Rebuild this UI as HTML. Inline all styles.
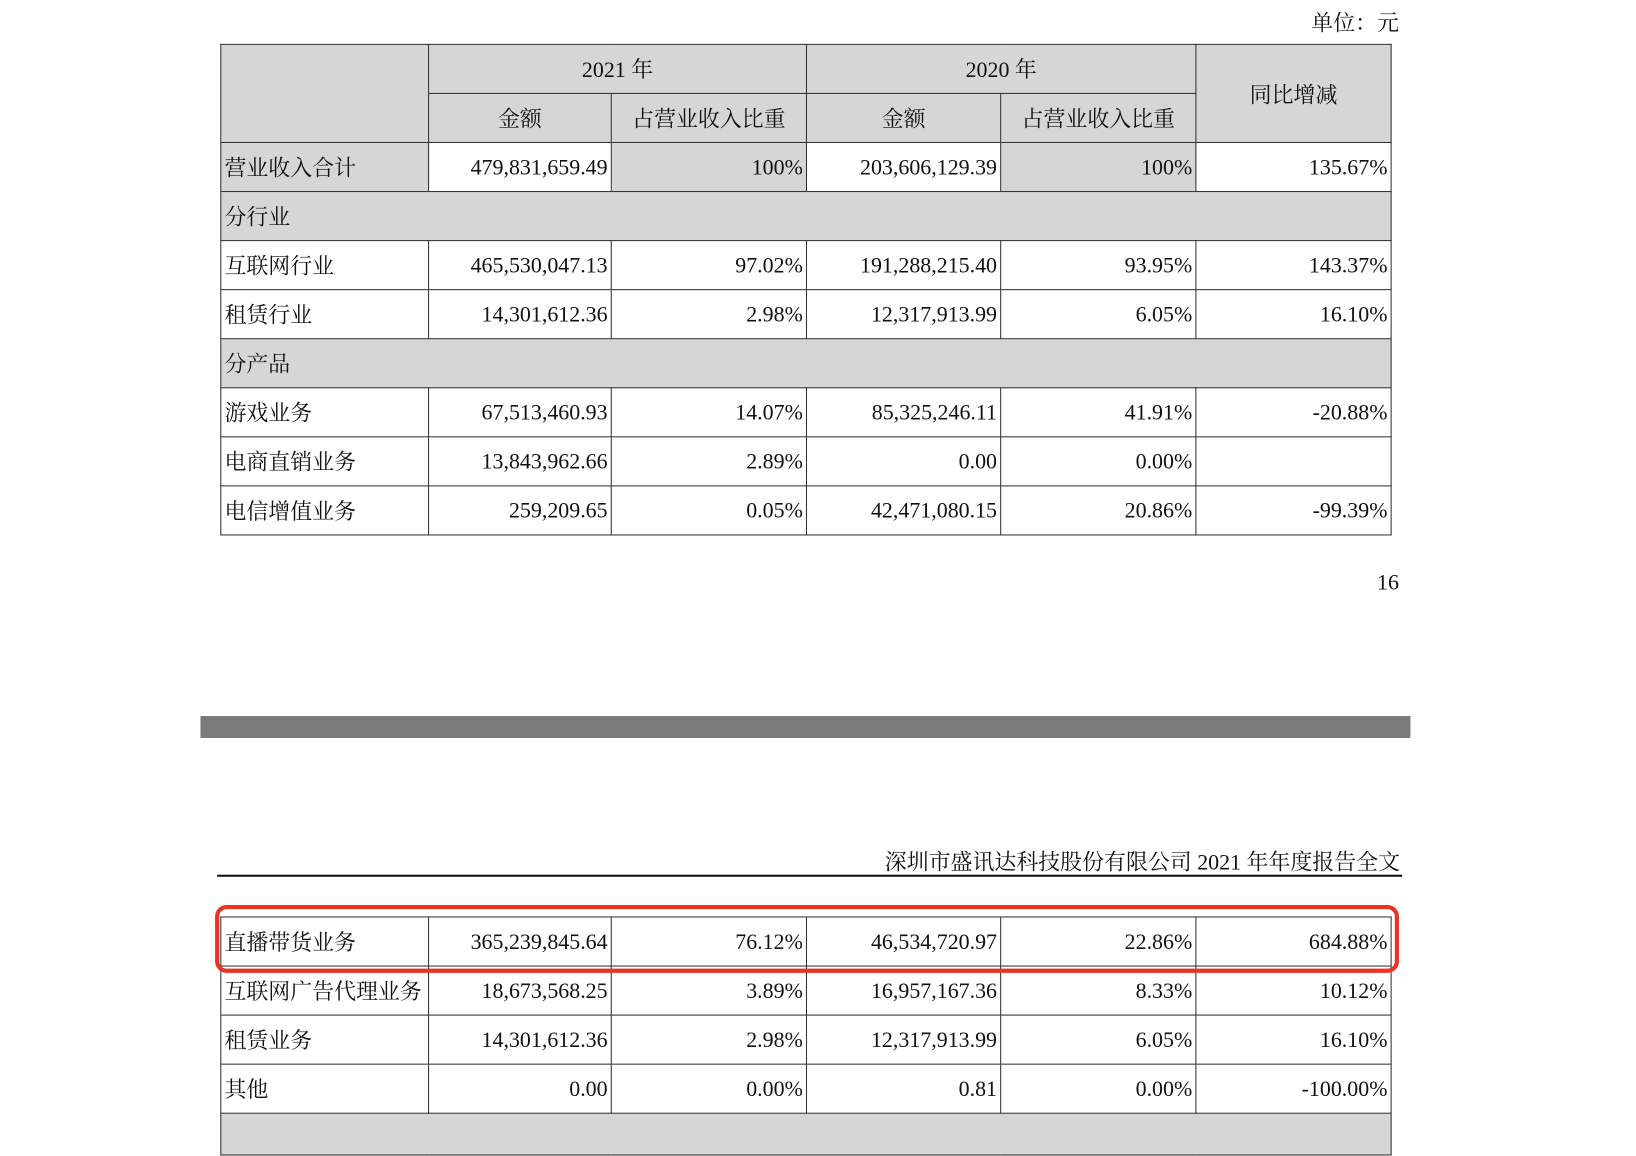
<!DOCTYPE html>
<html><head><meta charset="utf-8"><style>
html,body{margin:0;padding:0;background:#fff;width:1636px;height:1118px;overflow:hidden}
#w{position:absolute;left:0;top:0;width:1567px;height:1071px;transform:scale(1.044,1.0438);transform-origin:0 0;font-family:"Liberation Serif","Noto Serif CJK SC",serif;color:#111}
.t{position:absolute;font-size:21px;white-space:nowrap}
table{position:absolute;border-collapse:collapse;table-layout:fixed}
td{border:1.5px solid #333;height:47px;padding:0 3px;font-size:21px;white-space:nowrap;box-sizing:border-box}
td.r{text-align:right}
td.c{text-align:center}
.g{background:#d6d6d6}
</style></head><body><div id="w">
<div class="t" style="right:227px;top:6px">单位：元</div>
<table style="left:211px;top:42px;width:1121px">
<colgroup><col style="width:199px"><col style="width:175px"><col style="width:187px"><col style="width:186px"><col style="width:187px"><col style="width:187px"></colgroup>
<tr><td class="g" rowspan="2"></td><td class="g c" colspan="2">2021 年</td><td class="g c" colspan="2">2020 年</td><td class="g c" rowspan="2">同比增减</td></tr>
<tr><td class="g c">金额</td><td class="g c">占营业收入比重</td><td class="g c">金额</td><td class="g c">占营业收入比重</td></tr>
<tr><td class="g">营业收入合计</td><td class="r">479,831,659.49</td><td class="g r">100%</td><td class="r">203,606,129.39</td><td class="g r">100%</td><td class="r">135.67%</td></tr>
<tr><td class="g" colspan="6">分行业</td></tr>
<tr><td>互联网行业</td><td class="r">465,530,047.13</td><td class="r">97.02%</td><td class="r">191,288,215.40</td><td class="r">93.95%</td><td class="r">143.37%</td></tr>
<tr><td>租赁行业</td><td class="r">14,301,612.36</td><td class="r">2.98%</td><td class="r">12,317,913.99</td><td class="r">6.05%</td><td class="r">16.10%</td></tr>
<tr><td class="g" colspan="6">分产品</td></tr>
<tr><td>游戏业务</td><td class="r">67,513,460.93</td><td class="r">14.07%</td><td class="r">85,325,246.11</td><td class="r">41.91%</td><td class="r">-20.88%</td></tr>
<tr><td>电商直销业务</td><td class="r">13,843,962.66</td><td class="r">2.89%</td><td class="r">0.00</td><td class="r">0.00%</td><td class="r"></td></tr>
<tr><td>电信增值业务</td><td class="r">259,209.65</td><td class="r">0.05%</td><td class="r">42,471,080.15</td><td class="r">20.86%</td><td class="r">-99.39%</td></tr>
</table>
<div class="t" style="right:227px;top:546px">16</div>
<div style="position:absolute;left:192px;top:686px;width:1159px;height:21px;background:#7a7a7a"></div>
<div class="t" style="right:226px;top:810px">深圳市盛讯达科技股份有限公司 2021 年年度报告全文</div>
<div style="position:absolute;left:208px;top:838px;width:1135px;height:2px;background:#111"></div>
<table style="left:211px;top:878px;width:1121px">
<colgroup><col style="width:199px"><col style="width:175px"><col style="width:187px"><col style="width:186px"><col style="width:187px"><col style="width:187px"></colgroup>
<tr><td>直播带货业务</td><td class="r">365,239,845.64</td><td class="r">76.12%</td><td class="r">46,534,720.97</td><td class="r">22.86%</td><td class="r">684.88%</td></tr>
<tr><td>互联网广告代理业务</td><td class="r">18,673,568.25</td><td class="r">3.89%</td><td class="r">16,957,167.36</td><td class="r">8.33%</td><td class="r">10.12%</td></tr>
<tr><td>租赁业务</td><td class="r">14,301,612.36</td><td class="r">2.98%</td><td class="r">12,317,913.99</td><td class="r">6.05%</td><td class="r">16.10%</td></tr>
<tr><td>其他</td><td class="r">0.00</td><td class="r">0.00%</td><td class="r">0.81</td><td class="r">0.00%</td><td class="r">-100.00%</td></tr>
<tr><td class="g" colspan="6" style="height:40px"></td></tr>
</table>
<div style="position:absolute;left:206px;top:867px;width:1134px;height:65px;border:4px solid #ea3323;border-radius:11px;box-sizing:border-box"></div>
</div></body></html>
